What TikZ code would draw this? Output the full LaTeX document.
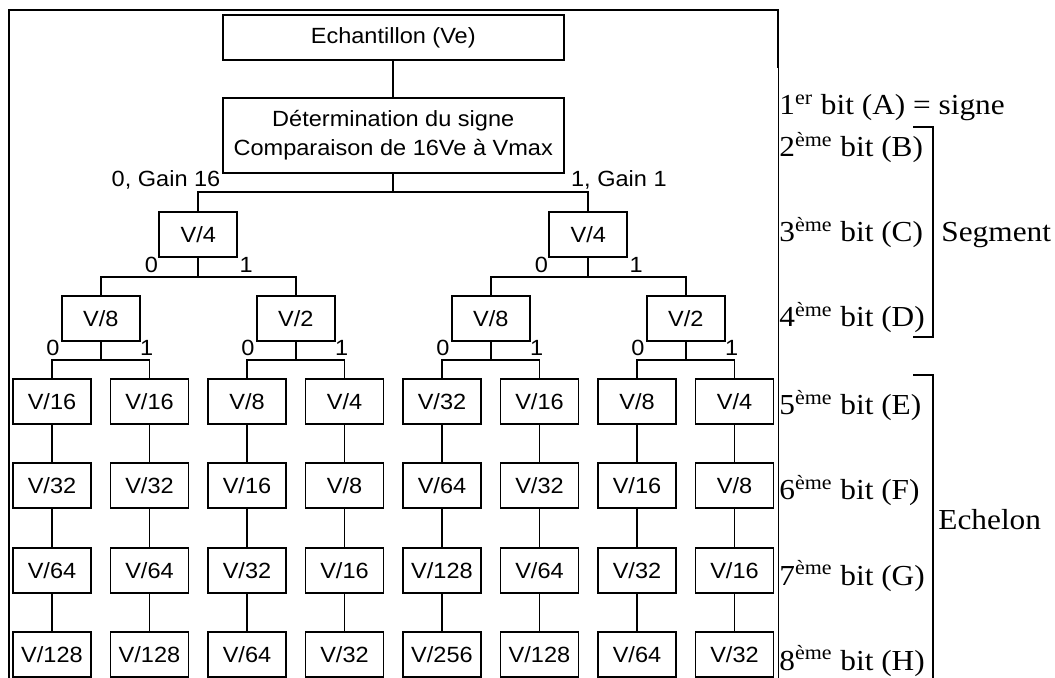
\documentclass[tikz,border=0pt]{standalone}
\usepackage{fontspec}
\setmainfont{Liberation Serif}[FakeStretch=1.08]
\newfontfamily\arialfont{Liberation Sans}[FakeStretch=1.07]
\usetikzlibrary{positioning}

\begin{document}
\begin{tikzpicture}[
  x=0.5pt, y=-0.5pt,
  % --- Styles ---
  cell/.style={
    draw, line width=0.9pt, inner sep=0pt, outer sep=0pt,
    minimum width=39pt, minimum height=22.5pt,
    align=center, font=\arialfont\fontsize{11}{14.5}\selectfont
  },
  head/.style={cell, minimum width=170.5pt},
  branch/.style={inner sep=0pt, font=\arialfont\fontsize{11}{13}\selectfont},
  bitname/.style={inner sep=0pt, anchor=base west, font=\fontsize{14.5}{17}\selectfont},
  link/.style={line width=0.9pt},
  frame/.style={line width=0.9pt},
  brace/.style={line width=0.8pt},
  node distance=19.67pt
]
\useasboundingbox (0,0) rectangle (1055,678);

% ---- Outer frame ----
\draw[frame] (9,680) |- (778,10) -- (778,68);
\draw[thin] (778,68) -- (778,680);

% ---- Head of the tree ----
\node[head] (ech) at (393.25,37.5) {Echantillon (Ve)};
\node[head, minimum height=37.5pt, below=19pt of ech] (det)
  {D\'etermination du signe\\Comparaison de 16Ve \`a Vmax};

% ---- Bit C and bit D ----
\node[cell] (c1) at (198.25,234.5) {V/4};
\node[cell] (c2) at (588.25,234.5) {V/4};
\node[cell] (d1) at (100.75,318.5) {V/8};
\node[cell] (d2) at (295.75,318.5) {V/2};
\node[cell] (d3) at (490.75,318.5) {V/8};
\node[cell] (d4) at (685.75,318.5) {V/2};

% ---- Bit E (first row of leaves) ----
\node[cell] (e1) at (52,401.5) {V/16};
\node[cell, right=9.75pt of e1] (e2) {V/16};
\node[cell, right=9.75pt of e2] (e3) {V/8};
\node[cell, right=9.75pt of e3] (e4) {V/4};
\node[cell, right=9.75pt of e4] (e5) {V/32};
\node[cell, right=9.75pt of e5] (e6) {V/16};
\node[cell, right=9.75pt of e6] (e7) {V/8};
\node[cell, right=9.75pt of e7] (e8) {V/4};

% ---- Bit F ----
\node[cell, below=of e1] (f1) {V/32};
\node[cell, below=of e2] (f2) {V/32};
\node[cell, below=of e3] (f3) {V/16};
\node[cell, below=of e4] (f4) {V/8};
\node[cell, below=of e5] (f5) {V/64};
\node[cell, below=of e6] (f6) {V/32};
\node[cell, below=of e7] (f7) {V/16};
\node[cell, below=of e8] (f8) {V/8};

% ---- Bit G ----
\node[cell, below=of f1] (g1) {V/64};
\node[cell, below=of f2] (g2) {V/64};
\node[cell, below=of f3] (g3) {V/32};
\node[cell, below=of f4] (g4) {V/16};
\node[cell, below=of f5] (g5) {V/128};
\node[cell, below=of f6] (g6) {V/64};
\node[cell, below=of f7] (g7) {V/32};
\node[cell, below=of f8] (g8) {V/16};

% ---- Bit H ----
\node[cell, below=of g1] (h1) {V/128};
\node[cell, below=of g2] (h2) {V/128};
\node[cell, below=of g3] (h3) {V/64};
\node[cell, below=of g4] (h4) {V/32};
\node[cell, below=of g5] (h5) {V/256};
\node[cell, below=of g6] (h6) {V/128};
\node[cell, below=of g7] (h7) {V/64};
\node[cell, below=of g8] (h8) {V/32};

% ---- Forks ----
\draw[link] (ech) -- (det);
\draw[link] (det.south) -- ++(0,19) -| (c1.north);
\draw[link] (det.south) -- ++(0,19) -| (c2.north);
\draw[link] (c1.south) -- ++(0,20) -| (d1.north);
\draw[link] (c1.south) -- ++(0,20) -| (d2.north);
\draw[link] (c2.south) -- ++(0,20) -| (d3.north);
\draw[link] (c2.south) -- ++(0,20) -| (d4.north);
\draw[link] (d1.south) -- ++(0,19) -| (e1.north);
\draw[link] (d1.south) -- ++(0,19) -| (e2.north);
\draw[link] (d2.south) -- ++(0,19) -| (e3.north);
\draw[link] (d2.south) -- ++(0,19) -| (e4.north);
\draw[link] (d3.south) -- ++(0,19) -| (e5.north);
\draw[link] (d3.south) -- ++(0,19) -| (e6.north);
\draw[link] (d4.south) -- ++(0,19) -| (e7.north);
\draw[link] (d4.south) -- ++(0,19) -| (e8.north);

% ---- Columns ----
\draw[link] (e1) -- (f1) (f1) -- (g1) (g1) -- (h1);
\draw[link] (e2) -- (f2) (f2) -- (g2) (g2) -- (h2);
\draw[link] (e3) -- (f3) (f3) -- (g3) (g3) -- (h3);
\draw[link] (e4) -- (f4) (f4) -- (g4) (g4) -- (h4);
\draw[link] (e5) -- (f5) (f5) -- (g5) (g5) -- (h5);
\draw[link] (e6) -- (f6) (f6) -- (g6) (g6) -- (h6);
\draw[link] (e7) -- (f7) (f7) -- (g7) (g7) -- (h7);
\draw[link] (e8) -- (f8) (f8) -- (g8) (g8) -- (h8);

% ---- Branch values ----
\node[branch, anchor=base east] (gain0) at ([shift={(-2,14)}]det.south west) {0, Gain 16};
\node[branch, anchor=base west] (gain1) at ([shift={(7,14)}]det.south east) {1, Gain 1};
\node[branch, anchor=base east] (c1z) at ([shift={(-1,16)}]c1.south west) {0};
\node[branch, anchor=base west] (c1o) at ([shift={(2,16)}]c1.south east) {1};
\node[branch, anchor=base east] (c2z) at ([shift={(-1,16)}]c2.south west) {0};
\node[branch, anchor=base west] (c2o) at ([shift={(2,16)}]c2.south east) {1};
\node[branch, anchor=base east] (d1z) at ([shift={(-2,15)}]d1.south west) {0};
\node[branch, anchor=base west] (d1o) at ([shift={(0,15)}]d1.south east) {1};
\node[branch, anchor=base east] (d2z) at ([shift={(-2,15)}]d2.south west) {0};
\node[branch, anchor=base west] (d2o) at ([shift={(0,15)}]d2.south east) {1};
\node[branch, anchor=base east] (d3z) at ([shift={(-2,15)}]d3.south west) {0};
\node[branch, anchor=base west] (d3o) at ([shift={(0,15)}]d3.south east) {1};
\node[branch, anchor=base east] (d4z) at ([shift={(-2,15)}]d4.south west) {0};
\node[branch, anchor=base west] (d4o) at ([shift={(0,15)}]d4.south east) {1};

% ---- Bit names ----
\node[bitname] (bitA) at (779,115) {1\textsuperscript{er} bit (A) = signe};
\node[bitname] (bitB) at (779,157) {2\textsuperscript{\`eme} bit (B)};
\node[bitname] (bitC) at (779,242) {3\textsuperscript{\`eme} bit (C)};
\node[bitname] (bitD) at (779,327) {4\textsuperscript{\`eme} bit (D)};
\node[bitname] (bitE) at (779,415) {5\textsuperscript{\`eme} bit (E)};
\node[bitname] (bitF) at (779,500) {6\textsuperscript{\`eme} bit (F)};
\node[bitname] (bitG) at (779,585) {7\textsuperscript{\`eme} bit (G)};
\node[bitname] (bitH) at (779,670) {8\textsuperscript{\`eme} bit (H)};

% ---- Groups ----
\draw[brace] (913,127) -| (933,337) -- (913,337);
\node[bitname] (seg) at (941,242) {Segment};
\draw[brace] (913,375) -| (933,680);
\node[bitname] (ech2) at (938,530) {Echelon};

\end{tikzpicture}
\end{document}
